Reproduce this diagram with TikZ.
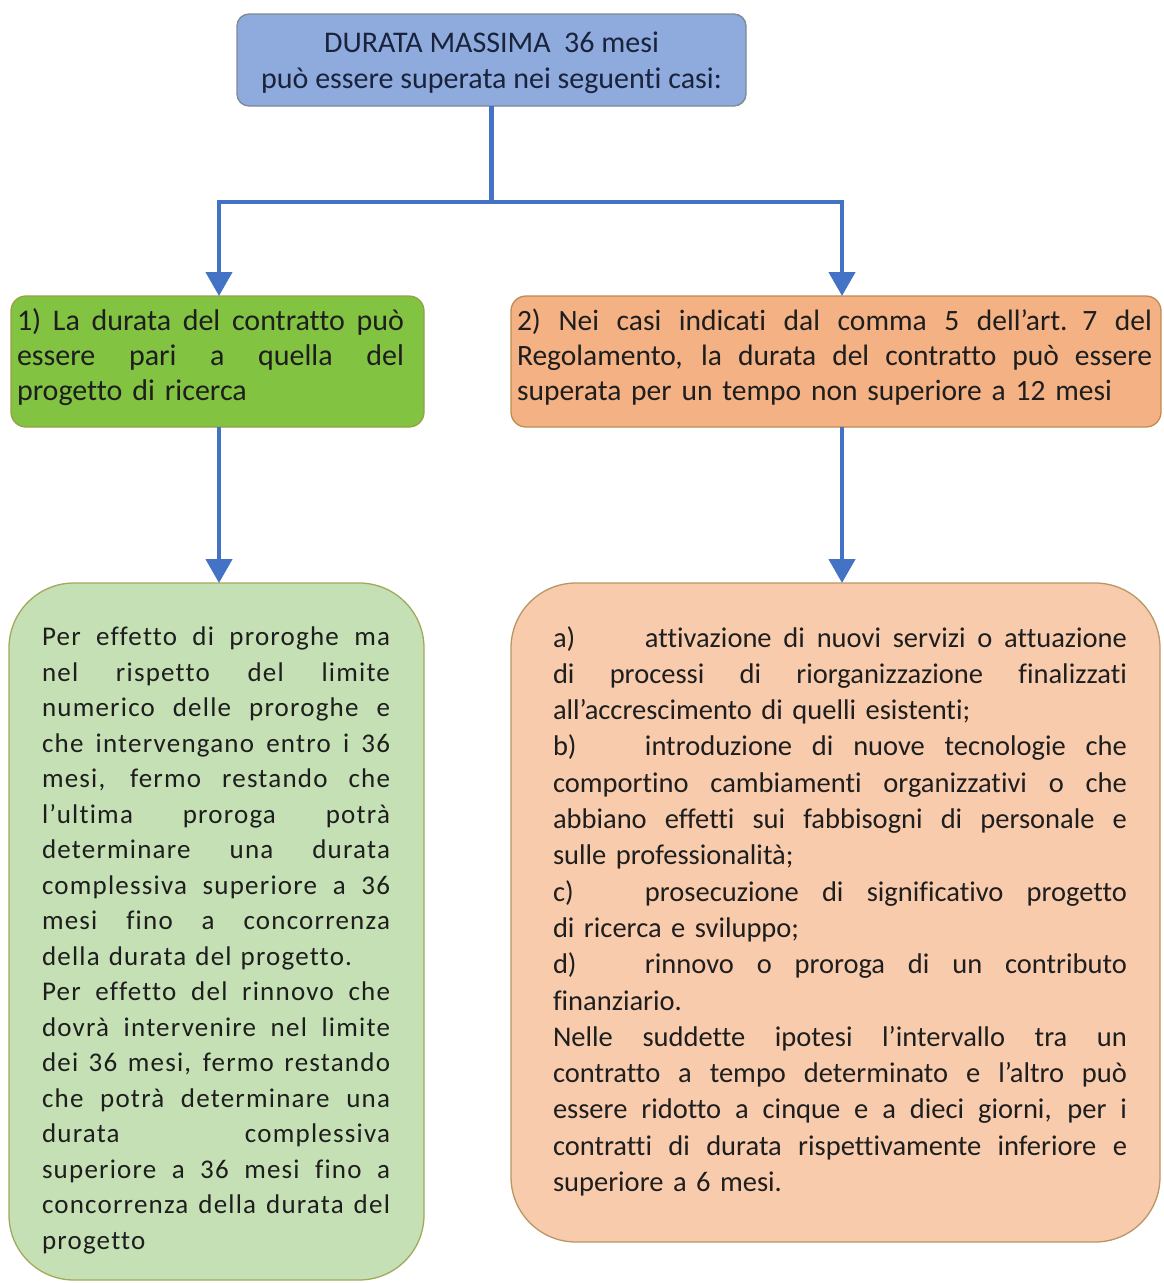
\documentclass[tikz,border=0pt]{standalone}
\usepackage{fontspec}
\setmainfont{Carlito}[Ligatures=NoCommon]
\newfontfamily\spacedfont{Carlito}[LetterSpace=4.5,Ligatures=NoCommon]
\usetikzlibrary{arrows.meta}
\definecolor{conncol}{RGB}{68,114,196}
\definecolor{topfill}{RGB}{143,170,220}
\definecolor{topdraw}{RGB}{125,135,150}
\definecolor{gfill}{RGB}{130,195,66}
\definecolor{gdraw}{RGB}{150,160,70}
\definecolor{ofill}{RGB}{244,177,131}
\definecolor{odraw}{RGB}{190,140,80}
\definecolor{lgfill}{RGB}{197,224,180}
\definecolor{lgdraw}{RGB}{160,170,90}
\definecolor{lofill}{RGB}{248,203,173}
\definecolor{lodraw}{RGB}{185,150,100}
\definecolor{textcol}{RGB}{30,30,30}
\definecolor{toptext}{RGB}{25,35,60}
\newdimen\jw
\newcommand{\jline}[1]{\noindent\hbox to \jw{\spaceskip=0.226em plus 1fil\relax\rule{0pt}{22pt}#1}\par}
\newcommand{\eline}[1]{\noindent\hbox{\rule{0pt}{22pt}#1}\par}
\newcommand{\tabitem}[1]{\hbox to 92pt{#1\hss}}
\tikzset{
  box/.style={draw, line width=1.3pt, inner sep=0pt, outer sep=0pt, anchor=north west},
  conn/.style={draw=conncol, line width=4.5pt},
  arr/.style={conn, -{Triangle[width=26pt,length=24pt]}},
  txt/.style={inner sep=0pt, outer sep=0pt, anchor=north west, text=textcol},
}
\begin{document}
\begin{tikzpicture}[x=1pt,y=-1pt]
\useasboundingbox (0,0) rectangle (1163,1283);
% boxes
\node[box, fill=topfill, draw=topdraw, rounded corners=12pt, minimum width=509pt, minimum height=92pt] (top) at (237,14) {};
\node[box, fill=gfill, draw=gdraw, rounded corners=15pt, minimum width=413pt, minimum height=131pt] (b1) at (11,296) {};
\node[box, fill=ofill, draw=odraw, rounded corners=15pt, minimum width=650pt, minimum height=131pt] (b2) at (511,296) {};
\node[box, fill=lgfill, draw=lgdraw, rounded corners=65pt, minimum width=415pt, minimum height=697pt] (b3) at (9,583) {};
\node[box, fill=lofill, draw=lodraw, rounded corners=65pt, minimum width=649pt, minimum height=659pt] (b4) at (511,583) {};
% connectors
\coordinate (split) at (491.5,202);
\coordinate (splitL) at (219,202);
\coordinate (splitR) at (842,202);
\draw[conn] (top.south) -- (split);
\draw[arr] (split) -- (splitL) -- (splitL |- b1.north);
\draw[arr] (split) -- (splitR) -- (splitR |- b2.north);
\draw[arr] (splitL |- b1.south) -- (splitL |- b3.north);
\draw[arr] (splitR |- b2.south) -- (splitR |- b4.north);
% texts
\node[inner sep=0pt, anchor=north, align=center, text=toptext, font=\fontsize{30}{36}\selectfont] (toptxt) at (491.5,30)
  {\rule{0pt}{22pt}DURATA MASSIMA~~36 mesi\\può essere superata nei seguenti casi:};
\node[txt, text width=387pt, font=\fontsize{30}{35}\selectfont] (t1) at (17,308) {%
\jw=387pt
\jline{1) La durata del contratto può}
\jline{essere pari a quella del}
\eline{progetto di ricerca}};
\node[txt, text width=635pt, font=\fontsize{29.5}{35}\selectfont] (t2) at (517,308) {%
\jw=635pt
\jline{2) Nei casi indicati dal comma 5 dell’art. 7 del}
\jline{Regolamento, la durata del contratto può essere}
\eline{superata per un tempo non superiore a 12 mesi}};
\node[txt, text width=348pt, font=\spacedfont\fontsize{27}{35.5}\selectfont] (t3) at (42,623.5) {%
\jw=348pt
\jline{Per effetto di proroghe ma}
\jline{nel rispetto del limite}
\jline{numerico delle proroghe e}
\jline{che intervengano entro i 36}
\jline{mesi, fermo restando che}
\jline{l’ultima proroga potrà}
\jline{determinare una durata}
\jline{complessiva superiore a 36}
\jline{mesi fino a concorrenza}
\eline{della durata del progetto.}
\jline{Per effetto del rinnovo che}
\jline{dovrà intervenire nel limite}
\jline{dei 36 mesi, fermo restando}
\jline{che potrà determinare una}
\jline{durata complessiva}
\jline{superiore a 36 mesi fino a}
\jline{concorrenza della durata del}
\eline{progetto}};
\node[txt, text width=574pt, font=\fontsize{28.5}{36.3}\selectfont] (t4) at (553,625) {%
\jw=574pt
\jline{\tabitem{a)}attivazione di nuovi servizi o attuazione}
\jline{di processi di riorganizzazione finalizzati}
\eline{all’accrescimento di quelli esistenti;}
\jline{\tabitem{b)}introduzione di nuove tecnologie che}
\jline{comportino cambiamenti organizzativi o che}
\jline{abbiano effetti sui fabbisogni di personale e}
\eline{sulle professionalità;}
\jline{\tabitem{c)}prosecuzione di significativo progetto}
\eline{di ricerca e sviluppo;}
\jline{\tabitem{d)}rinnovo o proroga di un contributo}
\eline{finanziario.}
\jline{Nelle suddette ipotesi l’intervallo tra un}
\jline{contratto a tempo determinato e l’altro può}
\jline{essere ridotto a cinque e a dieci giorni, per i}
\jline{contratti di durata rispettivamente inferiore e}
\eline{superiore a 6 mesi.}};
\end{tikzpicture}
\end{document}
